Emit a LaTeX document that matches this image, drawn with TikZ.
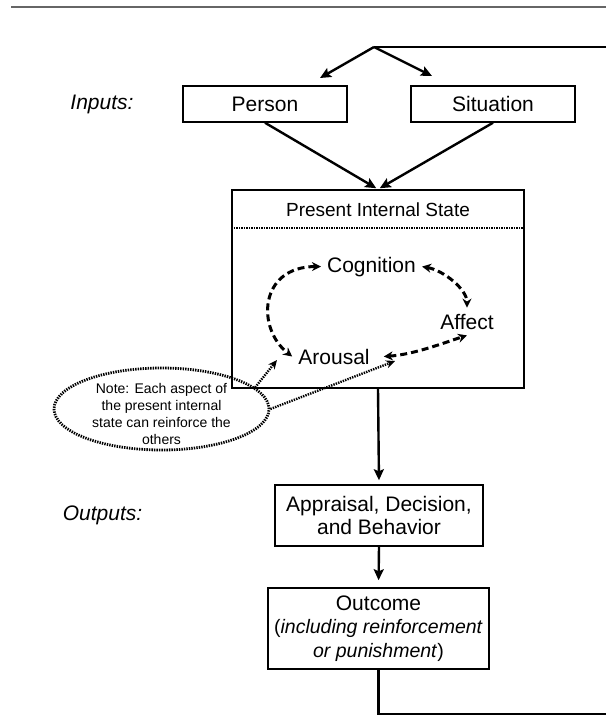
\documentclass[tikz,border=0pt]{standalone}
\usepackage{fontspec}
\setmainfont{Liberation Sans}
\usetikzlibrary{shapes,arrows.meta}

\begin{document}
\begin{tikzpicture}[x=1pt,y=-1pt,
  box/.style={draw,line width=1.5pt,font=\fontsize{21}{23.5}\selectfont,align=center,inner sep=0pt},
  lbl/.style={font=\fontsize{21}{24}\selectfont\itshape},
  word/.style={font=\fontsize{21}{24}\selectfont,inner sep=6pt,anchor=base},
  dots/.style={dash pattern=on 1.4pt off 1.1pt},
  flow/.style={line width=2.4pt,-{Stealth[length=11pt,width=10pt,inset=2pt]}},
  loop/.style={line width=3pt,dash pattern=on 7pt off 4pt,{Stealth[length=9pt,width=9pt]}-{Stealth[length=9pt,width=9pt]}},
  hint/.style={dots,line width=2.4pt,-{Stealth[length=9pt,width=8pt]}}]
\useasboundingbox (0,0) rectangle (606,715);
\draw[black!60,line width=2pt] (11,6.5) -- (606,6.5);
% inputs
\node[lbl] (inputs) at (102,104) {Inputs:};
\node[box,minimum width=164pt,minimum height=36pt] (person) at (265,104) {Person};
\node[box,minimum width=164pt,minimum height=36pt] (situation) at (493,104) {Situation};
\coordinate (split) at (374,47);
\coordinate (fbtop) at (606,47);
\coordinate (pa) at (320,78);
\coordinate (sa) at (432,76);
% present internal state
\node[box,minimum width=292pt,minimum height=198pt] (pis) at (378,289) {};
\node[font=\fontsize{19}{22}\selectfont] (title) at (378,210) {Present Internal State};
\draw[dots,line width=1.7pt] ([yshift=-39pt]pis.north west) -- ([yshift=-39pt]pis.north east);
\node[word] (cognition) at (371.5,272) {Cognition};
\node[word] (affect) at (467,329) {Affect};
\node[word] (arousal) at (334,364) {Arousal};
\draw[loop] (cognition.west) .. controls +(-62,0) and +(-36,-28) .. (arousal.west);
\draw[loop] (cognition.east) .. controls +(22,4) and +(0,-18) .. (affect.north);
\draw[loop] ([xshift=8pt]arousal.east) .. controls +(30,-2) and +(-25,8) .. (affect.south);
% note
\node[ellipse,draw,dots,line width=2.8pt,minimum width=215pt,minimum height=82pt,inner sep=0pt] (note) at (161.5,409) {};
\node[font=\fontsize{14}{17}\selectfont,align=center] (notetxt) at (161.5,414) {Note: Each aspect of\\the present internal\\state can reinforce the\\others};
\coordinate (tipA) at (277,360);
\coordinate (tipB) at (395,361);
\draw[hint] (note.13) -- (tipA);
\draw[hint] (note.east) -- (tipB);
% outputs
\node[lbl] (outputs) at (102.5,515) {Outputs:};
\node[box,minimum width=208pt,minimum height=61pt] (appraisal) at (379,515.5) {Appraisal, Decision,\\and Behavior};
\node[box,minimum width=221pt,minimum height=81pt] (outcome) at (378.5,628.5)
  {Outcome\\\fontsize{19.5}{23.5}\selectfont(\textit{including reinforcement}\\\fontsize{19.5}{23.5}\selectfont\textit{or punishment})};
\coordinate (fbcorner) at (378.5,714);
\coordinate (fbend) at (606,714);
\path[flow]
  (split) edge (pa)
  (split) edge (sa)
  (person.south) edge[shorten >=2pt] (pis.north)
  (situation.south) edge[shorten >=2pt] (pis.north)
  (pis.south) edge[shorten >=4pt] (appraisal.north)
  (appraisal.south) edge[shorten >=7pt] (outcome.north)
;
\draw[line width=2.4pt] (fbtop) -- (split);
\draw[line width=2.4pt] (outcome.south) -- (fbcorner) -- (fbend);
\end{tikzpicture}
\end{document}
